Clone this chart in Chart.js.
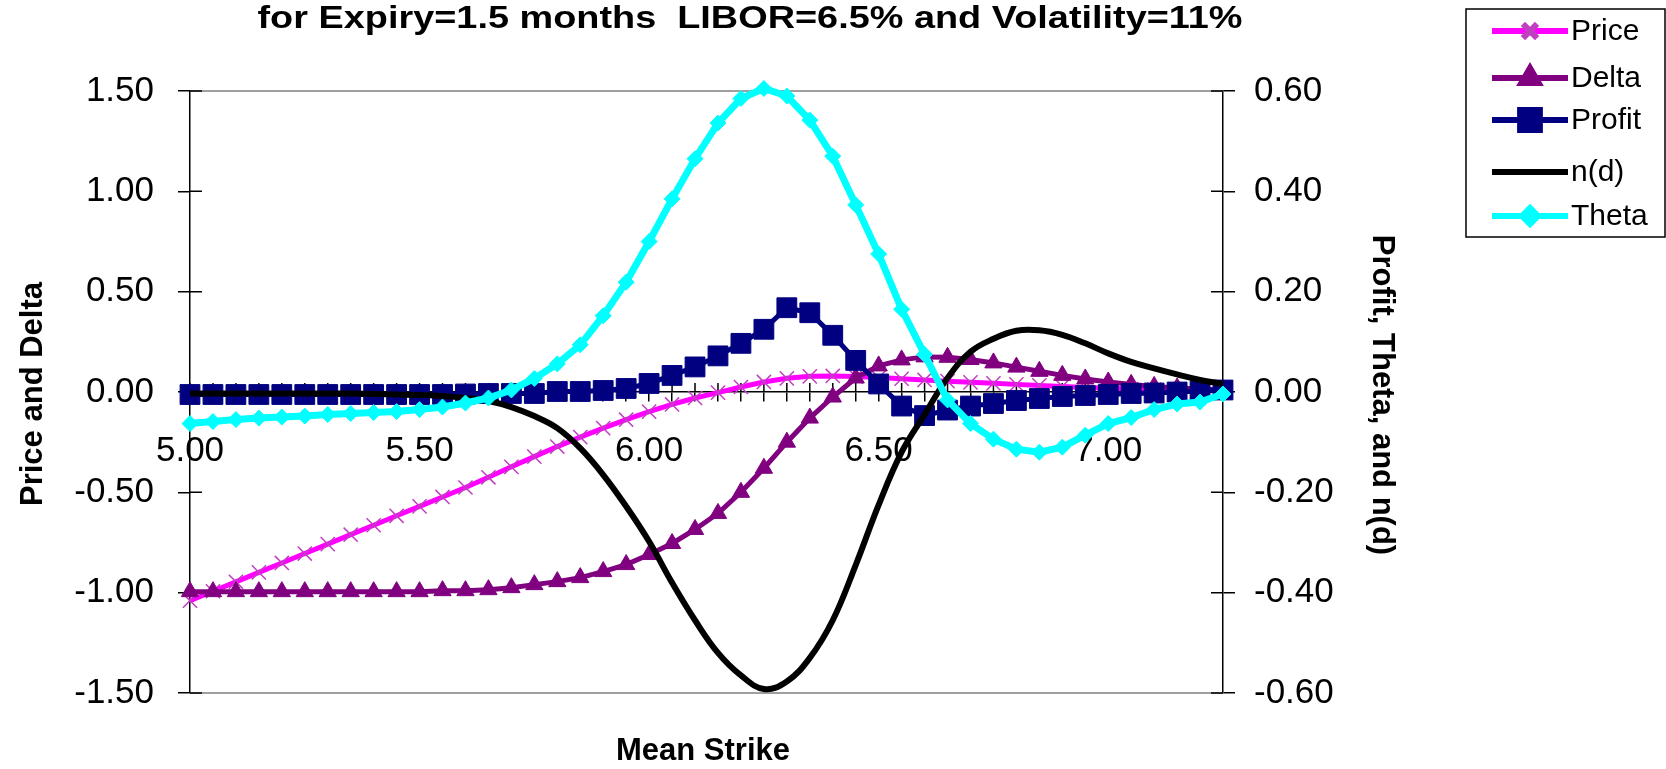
<!DOCTYPE html>
<html>
<head>
<meta charset="utf-8">
<script src="https://cdn.jsdelivr.net/npm/chart.js@4.4.1/dist/chart.umd.min.js"></script>
<style>
  html, body { margin: 0; padding: 0; background: #fff; overflow: hidden; }
</style>
</head>
<body>
<canvas id="chart" width="1666" height="769"></canvas>
<script>
var strikes = ['5.00','5.05','5.10','5.15','5.20','5.25','5.30','5.35','5.40','5.45',
               '5.50','5.55','5.60','5.65','5.70','5.75','5.80','5.85','5.90','5.95',
               '6.00','6.05','6.10','6.15','6.20','6.25','6.30','6.35','6.40','6.45',
               '6.50','6.55','6.60','6.65','6.70','6.75','6.80','6.85','6.90','6.95',
               '7.00','7.05','7.10','7.15','7.20','7.25'];

// left axis
var price = [-1.04,-0.993,-0.946,-0.899,-0.852,-0.805,-0.758,-0.711,-0.664,-0.617,
             -0.57,-0.523,-0.476,-0.425,-0.373,-0.322,-0.272,-0.225,-0.18,-0.138,
             -0.098,-0.062,-0.03,-0.003,0.025,0.05,0.068,0.078,0.08,0.077,
             0.072,0.066,0.06,0.054,0.048,0.043,0.038,0.033,0.028,0.023,
             0.019,0.015,0.012,0.009,0.007,0.005];
var delta = [-0.995,-0.995,-0.995,-0.995,-0.995,-0.995,-0.995,-0.995,-0.995,-0.995,
             -0.995,-0.99,-0.99,-0.985,-0.975,-0.96,-0.945,-0.925,-0.895,-0.86,
             -0.81,-0.755,-0.685,-0.605,-0.50,-0.38,-0.25,-0.13,-0.025,0.07,
             0.13,0.16,0.175,0.173,0.162,0.145,0.124,0.103,0.083,0.065,
             0.05,0.038,0.028,0.02,0.015,0.011];

// right axis
var profit = [-0.005,-0.005,-0.005,-0.005,-0.005,-0.005,-0.005,-0.005,-0.005,-0.005,
              -0.005,-0.005,-0.004,-0.003,-0.003,-0.003,0.001,0.001,0.003,0.007,
              0.017,0.033,0.05,0.072,0.097,0.125,0.168,0.158,0.113,0.063,
              0.016,-0.028,-0.047,-0.036,-0.028,-0.023,-0.017,-0.013,-0.009,-0.007,
              -0.005,-0.003,-0.002,0.0,0.002,0.004];
var nd = [-0.003,-0.003,-0.003,-0.003,-0.003,-0.003,-0.003,-0.003,-0.004,-0.005,
          -0.006,-0.008,-0.012,-0.018,-0.03,-0.048,-0.072,-0.112,-0.165,-0.228,
          -0.298,-0.38,-0.455,-0.52,-0.565,-0.592,-0.577,-0.53,-0.455,-0.345,
          -0.225,-0.12,-0.045,0.028,0.08,0.106,0.122,0.123,0.114,0.097,
          0.077,0.06,0.047,0.035,0.024,0.016];
var theta = [-0.063,-0.059,-0.055,-0.052,-0.05,-0.048,-0.045,-0.043,-0.041,-0.039,
             -0.035,-0.03,-0.022,-0.012,0.004,0.027,0.056,0.094,0.152,0.219,
             0.30,0.385,0.465,0.536,0.585,0.605,0.59,0.542,0.47,0.373,
             0.275,0.165,0.075,-0.016,-0.063,-0.094,-0.114,-0.12,-0.11,-0.086,
             -0.063,-0.051,-0.035,-0.024,-0.02,-0.004];

var titleText = 'for Expiry=1.5 months  LIBOR=6.5% and Volatility=11%';
var FONT = '"Liberation Sans", Arial, sans-serif';

// grey frame, inner half of the cross ticks, titles and the boxed legend
var excelBits = {
  id: 'excelBits',
  beforeDatasetsDraw: function (chart) {
    var c = chart.ctx, a = chart.chartArea;
    var xs = chart.scales.x, yl = chart.scales.y, yr = chart.scales.y1;
    c.save();
    c.strokeStyle = '#808080';
    c.lineWidth = 1.5;
    c.beginPath();
    c.moveTo(a.left, a.top); c.lineTo(a.right, a.top);
    c.moveTo(a.left, a.bottom); c.lineTo(a.right, a.bottom);
    c.stroke();

    c.strokeStyle = '#000';
    c.beginPath();
    yl.ticks.forEach(function (t) {
      var y = yl.getPixelForValue(t.value);
      c.moveTo(a.left, y); c.lineTo(a.left + 12, y);
    });
    yr.ticks.forEach(function (t) {
      var y = yr.getPixelForValue(t.value);
      c.moveTo(a.right - 12, y); c.lineTo(a.right, y);
    });
    var y0 = yl.getPixelForValue(0);
    xs.ticks.forEach(function (t, i) {
      var x = xs.getPixelForTick(i);
      c.moveTo(x, y0 - 9); c.lineTo(x, y0);
    });
    c.stroke();
    c.restore();
  },
  afterDraw: function (chart) {
    var c = chart.ctx;
    c.save();
    c.fillStyle = '#000';

    // main title (squeezed to the width it has in the picture)
    c.font = 'bold 32px ' + FONT;
    var w = c.measureText(titleText).width;
    c.save();
    c.translate(750, 28);
    c.scale(985 / w, 1);
    c.textAlign = 'center';
    c.textBaseline = 'alphabetic';
    c.fillText(titleText, 0, 0);
    c.restore();

    // axis titles
    c.font = 'bold 31px ' + FONT;
    c.textAlign = 'center';
    c.textBaseline = 'middle';
    c.fillText('Mean Strike', 703, 751);
    c.save();
    c.translate(33, 394);
    c.rotate(-Math.PI / 2);
    c.fillText('Price and Delta', 0, 0);
    c.restore();
    c.save();
    c.translate(1382, 395);
    c.rotate(Math.PI / 2);
    c.fillText('Profit, Theta, and n(d)', 0, 0);
    c.restore();

    // legend box
    c.strokeStyle = '#000';
    c.lineWidth = 1.5;
    c.strokeRect(1466, 9, 199, 228);
    var rows = [31, 78, 120, 172, 216];
    c.font = '30px ' + FONT;
    c.textAlign = 'left';
    chart.data.datasets.forEach(function (ds, i) {
      var y = rows[i];
      c.strokeStyle = ds.borderColor;
      c.lineWidth = 6;
      c.beginPath();
      c.moveTo(1492, y); c.lineTo(1568, y);
      c.stroke();
      if (ds.pointRadius > 0) {
        c.fillStyle = ds.pointBackgroundColor;
        c.strokeStyle = ds.pointBorderColor;
        Chart.helpers.drawPoint(c, {
          pointStyle: ds.pointStyle,
          radius: ds.pointRadius,
          rotation: 0,
          borderWidth: ds.pointBorderWidth
        }, 1530, y);
      }
      c.fillStyle = '#000';
      c.fillText(ds.label, 1571, y + 1);
    });
    c.restore();
  }
};

var ctx = document.getElementById('chart');
var tickFont = { family: FONT, size: 35 };

window.myChart = new Chart(ctx, {
  type: 'line',
  data: {
    labels: strikes,
    datasets: [{
      label: 'Price',
      data: price,
      yAxisID: 'y',
      borderColor: '#FF00FF',
      borderWidth: 5,
      pointStyle: 'crossRot',
      pointRadius: 10,
      pointBorderWidth: 1.5,
      pointBorderColor: '#C040C0',
      pointBackgroundColor: '#FF00FF',
      tension: 0,
      clip: false,
      order: 4
    },
    {
      label: 'Delta',
      data: delta,
      yAxisID: 'y',
      borderColor: '#800080',
      borderWidth: 5,
      pointStyle: 'triangle',
      pointRadius: 10,
      pointBorderWidth: 1,
      pointBorderColor: '#800080',
      pointBackgroundColor: '#800080',
      tension: 0,
      clip: false,
      order: 3
    },
    {
      label: 'Profit',
      data: profit,
      yAxisID: 'y1',
      borderColor: '#000080',
      borderWidth: 5,
      pointStyle: 'rect',
      pointRadius: 14,
      pointBorderWidth: 1,
      pointBorderColor: '#000080',
      pointBackgroundColor: '#000080',
      tension: 0,
      clip: false,
      order: 2
    },
    {
      label: 'n(d)',
      data: nd,
      yAxisID: 'y1',
      borderColor: '#000000',
      borderWidth: 6,
      pointRadius: 0,
      tension: 0.4,
      clip: false,
      order: 1
    },
    {
      label: 'Theta',
      data: theta,
      yAxisID: 'y1',
      borderColor: '#00FFFF',
      borderWidth: 7,
      pointStyle: 'rectRot',
      pointRadius: 8,
      pointBorderWidth: 1,
      pointBorderColor: '#00FFFF',
      pointBackgroundColor: '#00FFFF',
      tension: 0,
      clip: false,
      order: 0
    }]
  },
  options: {
    responsive: false,
    animation: false,
    events: [],
    layout: { padding: { top: 91, bottom: 76, left: 0, right: 0 } },
    plugins: {
      legend: { display: false },
      title: { display: false },
      tooltip: { enabled: false }
    },
    scales: {
      x: {
        type: 'category',
        position: { y: 0 },
        offset: false,
        grid: { drawOnChartArea: false, tickLength: 9, color: '#000', lineWidth: 1.5 },
        border: { color: '#000', width: 1.5 },
        ticks: {
          autoSkip: false,
          maxRotation: 0,
          padding: 29,
          color: '#000',
          font: tickFont,
          callback: function (value, index) {
            return index % 10 === 0 ? strikes[index] : '';
          }
        }
      },
      y: {
        position: 'left',
        min: -1.5,
        max: 1.5,
        grid: { drawOnChartArea: false, tickLength: 12, color: '#000', lineWidth: 1.5 },
        border: { color: '#000', width: 1.5 },
        ticks: {
          stepSize: 0.5,
          padding: 24,
          color: '#000',
          font: tickFont,
          callback: function (v) { return v.toFixed(2); }
        },
        afterFit: function (scale) { scale.width = 190; }
      },
      y1: {
        position: 'right',
        min: -0.6,
        max: 0.6,
        grid: { drawOnChartArea: false, tickLength: 12, color: '#000', lineWidth: 1.5 },
        border: { color: '#000', width: 1.5 },
        ticks: {
          stepSize: 0.2,
          padding: 19,
          color: '#000',
          font: tickFont,
          callback: function (v) { return v.toFixed(2); }
        },
        afterFit: function (scale) { scale.width = 443; }
      }
    }
  },
  plugins: [excelBits]
});
</script>
</body>
</html>
